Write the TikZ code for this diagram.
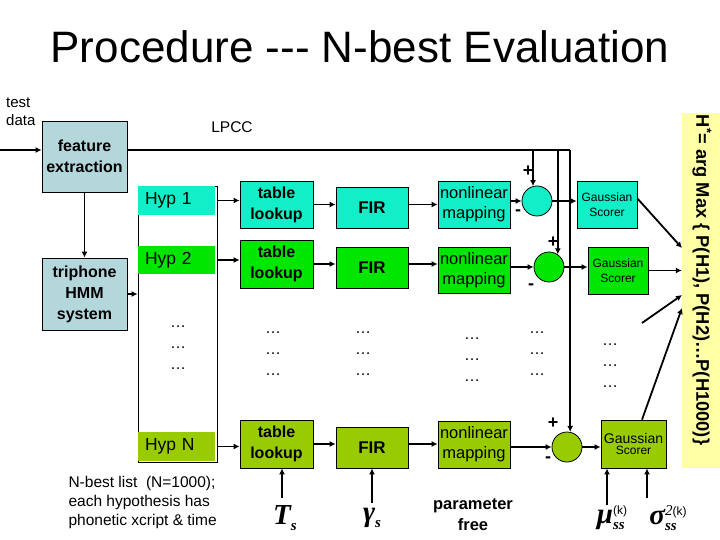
\documentclass[tikz,border=0pt]{standalone}
\usepackage{fontspec}
\setmainfont{Liberation Sans}
\newfontfamily\tnr{Liberation Serif}
\usetikzlibrary{arrows.meta,calc}
\definecolor{cy}{HTML}{11EEC8}
\definecolor{gr}{HTML}{00E600}
\definecolor{yg}{HTML}{99CC00}
\definecolor{gb}{HTML}{B4D7DC}
\definecolor{yl}{HTML}{FFFFA6}
\newcommand{\bigsym}[1]{{\tnr\bfseries\itshape\fontsize{29}{29}\selectfont #1}}
\newcommand{\smsub}[1]{\raisebox{-6pt}{\tnr\bfseries\itshape\fontsize{15}{15}\selectfont #1}}
\begin{document}
\begin{tikzpicture}[x=1pt,y=-1pt,
  box/.style={draw=black, line width=0.8pt, inner sep=0pt, align=center},
  bbox/.style={box, font=\bfseries\fontsize{16}{21}\selectfont},
  nlbox/.style={box, font=\fontsize{16.5}{20}\selectfont},
  gsbox/.style={box, font=\fontsize{12}{15}\selectfont},
  hyp/.style={inner xsep=7pt, inner ysep=0pt, text width=63pt, align=left, font=\fontsize{17.5}{18}\selectfont},
  cir/.style={circle, draw=black, line width=0.8pt, minimum size=30pt, inner sep=0pt},
  arr/.style={line width=1.8pt, -{Latex[length=6pt,width=6pt]}},
  ln/.style={line width=1.8pt},
  dots/.style={align=center, font=\fontsize{16}{21}\selectfont},
  pm/.style={font=\bfseries\fontsize{18}{18}\selectfont, inner sep=0pt},
  lab/.style={font=\fontsize{15.5}{19}\selectfont}]
\useasboundingbox (0,0) rectangle (720,540);

% title
\node[anchor=base, font=\fontsize{44}{44}\selectfont] (title) at (360,63) {Procedure -{}-{}- N-best Evaluation};

% left part
\node[anchor=north west, align=left, inner sep=0pt, font=\fontsize{15}{18}\selectfont] (td) at (6,98) {test\\data};
\node[bbox, fill=gb, minimum width=85pt, minimum height=71pt] (fe) at (84.5,156.5) {feature\\extraction};
\node[bbox, fill=gb, minimum width=85pt, minimum height=72pt] (tri) at (84.5,294) {triphone\\HMM\\system};
\node[font=\fontsize{15.5}{18}\selectfont] (lpcc) at (232,127) {LPCC};

% N-best list
\node[draw=black, line width=0.8pt, minimum width=79pt, minimum height=276pt, inner sep=0pt] (lst) at (177.5,324) {};
\node[hyp, fill=cy, minimum height=29pt] (h1) at (176.5,200.5) {Hyp 1};
\node[hyp, fill=gr, minimum height=28pt] (h2) at (176.5,260) {Hyp 2};
\node[hyp, fill=yg, minimum height=29pt] (hN) at (176.5,446.5) {Hyp N};
\node[dots] (d0) at (178,348) {…\\…\\…};

% table lookup
\node[bbox, fill=cy, minimum width=73pt, minimum height=47pt] (t1) at (276.5,204.5) {table\\lookup};
\node[bbox, fill=gr, minimum width=73pt, minimum height=48pt] (t2) at (276.5,264) {table\\lookup};
\node[bbox, fill=yg, minimum width=73pt, minimum height=48pt] (tN) at (276.5,444) {table\\lookup};
\node[dots] (d1) at (273,354) {…\\…\\…};

% FIR
\node[box, fill=cy, minimum width=72pt, minimum height=41pt, font=\bfseries\fontsize{17}{20}\selectfont] (f1) at (372,207.5) {FIR};
\node[box, fill=gr, minimum width=72pt, minimum height=41pt, font=\bfseries\fontsize{17}{20}\selectfont] (f2) at (372,267.5) {FIR};
\node[box, fill=yg, minimum width=72pt, minimum height=41pt, font=\bfseries\fontsize{17}{20}\selectfont] (fN) at (372,447.5) {FIR};
\node[dots] (d2) at (363,354) {…\\…\\…};

% nonlinear mapping
\node[nlbox, fill=cy, minimum width=72pt, minimum height=47pt] (n1) at (474,204.5) {nonlinear\\mapping};
\node[nlbox, fill=gr, minimum width=72pt, minimum height=46pt] (n2) at (474,270) {nonlinear\\mapping};
\node[nlbox, fill=yg, minimum width=72pt, minimum height=47pt] (nN) at (474,444.5) {nonlinear\\mapping};
\node[dots] (d3) at (472,360) {…\\…\\…};

% circles
\node[cir, fill=cy] (c1) at (537,201) {};
\node[cir, fill=gr] (c2) at (549,267) {};
\node[cir, fill=yg] (c3) at (567,447) {};
\node[dots] (d4) at (537,354) {…\\…\\…};
\node[pm] (p1) at (528,171) {+};
\node[pm] (m1) at (518,213) {-};
\node[pm] (p2) at (553,242) {+};
\node[pm] (m2) at (531,287) {-};
\node[pm] (p3) at (553,423) {+};
\node[pm] (m3) at (548,460) {-};

% Gaussian scorers
\node[gsbox, fill=cy, minimum width=60pt, minimum height=47pt] (g1) at (607,204.5) {Gaussian\\Scorer};
\node[gsbox, fill=gr, minimum width=60pt, minimum height=47pt] (g2) at (618,270.5) {Gaussian\\Scorer};
\node[box, fill=yg, minimum width=65pt, minimum height=48pt] (gN) at (633.5,444) {{\fontsize{14}{17}\selectfont Gaussian}\\[-1pt]{\fontsize{12}{14}\selectfont Scorer}};
\node[dots] (d5) at (610,366) {…\\…\\…};

% result bar
\node[fill=yl, minimum width=38pt, minimum height=355pt, inner sep=0pt] (hb) at (701,290.5) {};
\node[rotate=-90, font=\bfseries\fontsize{18.3}{19}\selectfont] (ht) at (702,280) {H\textsuperscript{*}= arg Max \{ P(H1), P(H2)…P(H1000)\}};

% bottom labels
\node[anchor=west, align=left, font=\fontsize{15.5}{19}\selectfont] (nb) at (65,502) {N-best list\ \ (N=1000);\\each hypothesis has\\phonetic xcript \& time};
\node (Ts) at (285,518) {\bigsym{T}\smsub{s}};
\node (gs) at (372,518) {\bigsym{γ}\smsub{s}};
\node[align=center, font=\bfseries\fontsize{16.5}{21}\selectfont] (pf) at (473,515) {parameter\\free};
\node (mu) at (612,518) {\bigsym{μ}\smsub{\rlap{ss}}\raisebox{9pt}{\fontsize{12}{12}\selectfont (k)}};
\node (sg) at (668,518) {\bigsym{σ}\smsub{\rlap{ss}}\raisebox{9pt}{{\tnr\itshape\fontsize{15}{15}\selectfont 2}\fontsize{12}{12}\selectfont (k)}};

% connectors
\coordinate (in) at (0,150);
\draw[arr] (in) -- (in -| fe.west);
\coordinate (lpS) at (127,150);
\draw[ln] (lpS) -- (c3.78 |- lpS);
\draw[arr] (c1.105 |- lpS) -- (c1.105);
\draw[arr] (c2.55 |- lpS) -- (c2.55);
\draw[arr] (c3.78 |- lpS) -- (c3.78);
\draw[arr] (fe.south) -- (tri.north);
\draw[arr] (tri.east) -- (tri.east -| lst.west);

\draw[arr] (lst.east |- h1) -- (t1.west |- h1);
\draw[arr] (lst.east |- h2) -- (t2.west |- h2);
\draw[arr] (lst.east |- hN) -- (tN.west |- hN);

\draw[arr] (t1.east) -- (f1.west |- t1.east);
\draw[arr] (t2.east) -- (f2.west |- t2.east);
\draw[arr] (tN.east) -- (fN.west |- tN.east);

\draw[arr] (f1.east |- t1.east) -- (n1.west |- t1.east);
\draw[arr] (f2.east |- t2.east) -- (n2.west |- t2.east);
\draw[arr] (fN.east |- tN.east) -- (nN.west |- tN.east);

\draw[arr] (n1.east |- c1) -- (c1.west);
\draw[arr] (n2.east |- c2) -- (c2.west);
\draw[arr] (nN.east |- c3) -- (c3.west);

\draw[arr] (c1.east) -- (c1.east -| g1.west);
\draw[arr] (c2.east) -- (c2.east -| g2.west);
\draw[arr] (c3.east) -- (c3.east -| gN.west);

\coordinate (y1) at (682,248);
\coordinate (y3) at (682,295);
\coordinate (y4) at (682,308);
\coordinate (ds) at (642,323);
\draw[arr] ($(g1.east)+(0,-6)$) -- (y1);
\draw[arr] (g2.east) -- (g2.east -| hb.west);
\draw[arr] (ds) -- (y3);
\draw[arr] ($(gN.north)+(8.5,0)$) -- (y4);

\coordinate (tsA) at (282,498);
\coordinate (gsA) at (372,503);
\coordinate (muA) at (607,505);
\coordinate (sgA) at (647,498);
\draw[arr] (tsA) -- (tsA |- tN.south);
\draw[arr] (gsA) -- (gsA |- fN.south);
\draw[arr] (muA) -- (muA |- gN.south);
\draw[arr] (sgA) -- (sgA |- gN.south);
\end{tikzpicture}
\end{document}
